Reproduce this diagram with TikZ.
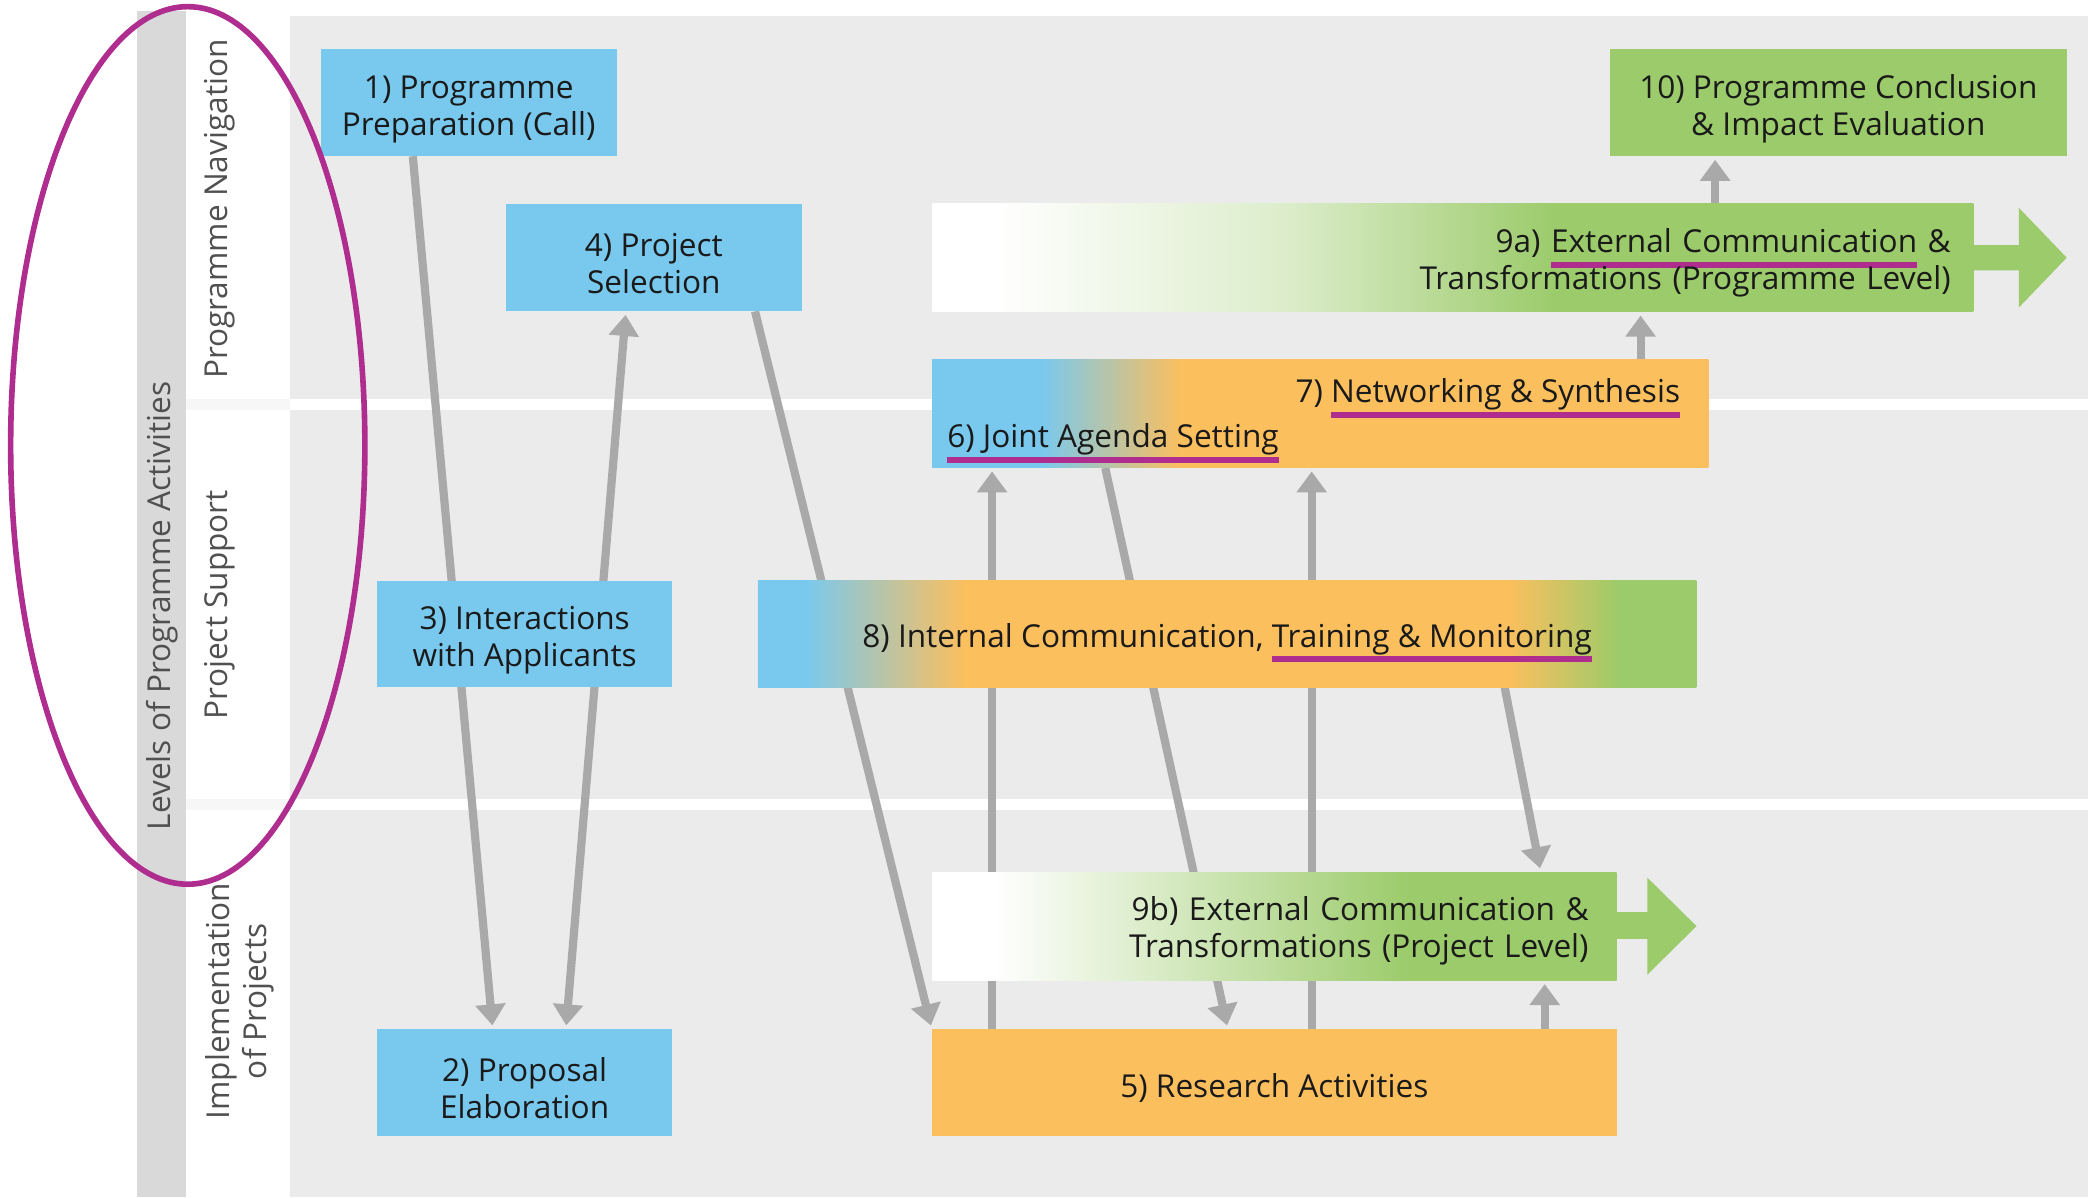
\documentclass[tikz,border=0pt]{standalone}
\usepackage{fontspec}
\setmainfont{Open Sans}
\usetikzlibrary{arrows.meta}

\definecolor{progblue}{HTML}{79C9EE}
\definecolor{progorange}{HTML}{FBBF5E}
\definecolor{proggreen}{HTML}{9BCB6A}
\definecolor{panel}{HTML}{EBEBEB}
\definecolor{barclr}{HTML}{D9D9D9}
\definecolor{flowgray}{HTML}{A9A9A9}
\definecolor{markclr}{HTML}{AE2D8F}
\definecolor{ink}{HTML}{1A1A1A}
\definecolor{sidegray}{HTML}{505050}

\pgfdeclarehorizontalshading{agenda}{100bp}{color(0bp)=(progblue); color(32bp)=(progblue); color(41bp)=(progorange); color(100bp)=(progorange)}
\pgfdeclarehorizontalshading{internal}{100bp}{color(0bp)=(progblue); color(27.5bp)=(progblue); color(36bp)=(progorange); color(65bp)=(progorange); color(71bp)=(proggreen); color(100bp)=(proggreen)}
\pgfdeclarehorizontalshading{extprog}{100bp}{color(0bp)=(white); color(28bp)=(white); color(42bp)=(proggreen!35); color(55bp)=(proggreen); color(100bp)=(proggreen)}
\pgfdeclarehorizontalshading{extproj}{100bp}{color(0bp)=(white); color(29.5bp)=(white); color(42bp)=(proggreen!40); color(60bp)=(proggreen); color(100bp)=(proggreen)}

\pgfdeclarelayer{back}
\pgfdeclarelayer{flows}
\pgfsetlayers{back,flows,main}

\newcommand{\boxfont}{\fontsize{13.5}{15.8}\selectfont}
\newcommand{\hilite}[1]{\sbox0{#1}\rlap{\smash{\color{markclr}\rule[-6.6pt]{\wd0}{2.6pt}}}\usebox0}

\begin{document}
\begin{tikzpicture}[x=0.02cm, y=-0.02cm, >={Triangle[width=12.5pt,length=9pt]},
  box/.style={minimum width=4.44cm, minimum height=1.6cm, inner sep=0pt, align=center, font=\boxfont, text=ink,
    execute at begin node={\rule{0pt}{14.5pt}}},
  twolines/.style={execute at begin node={\rule{0pt}{31pt}}},
  lbl/.style={inner sep=0pt, font=\boxfont, text=ink},
  flow/.style={draw=flowgray, line width=3.5pt, ->, shorten >=1.5pt},
  side/.style={rotate=90, align=center, font=\boxfont, text=sidegray}]

  \useasboundingbox (0,0) rectangle (1568,899);

  \begin{pgfonlayer}{back}
    \fill[panel] (218,12) rectangle (1568,899);
    \fill[barclr] (103,8) rectangle (140,899);
    \fill[white] (218,300) rectangle (1568,308);
    \fill[white] (218,600) rectangle (1568,608);
    \fill[panel!40] (140,300) rectangle (218,308);
    \fill[panel!40] (140,600) rectangle (218,608);
  \end{pgfonlayer}

  \node[side] (levels) at (122,455) {Levels of Programme Activities};
  \node[side] (nav) at (165,157) {Programme Navigation};
  \node[side] (support) at (165,454) {Project Support};
  \node[side] (impl) at (180,752) {Implementation\\of Projects};

  \node[box, twolines, fill=progblue] (prep) at (352,77) {1) Programme\\Preparation (Call)};
  \node[box, twolines, fill=progblue] (select) at (491,193.5) {4) Project\\Selection};
  \node[box, twolines, fill=progblue] (interact) at (394,476) {3) Interactions\\with Applicants};
  \node[box, twolines, fill=progblue] (proposal) at (394,813) {2) Proposal\\Elaboration};
  \node[box, twolines, fill=proggreen, minimum width=6.86cm] (conclusion) at (1380.5,77) {10) Programme Conclusion\\\& Impact Evaluation};

  \node[box, shade, shading=extprog, minimum width=15.64cm, minimum height=1.62cm, text width=14.96cm, align=right] (extprog) at (1091,193.5) {9a) \hilite{External Communication} \&\\Transformations (Programme Level)};
  \fill[proggreen] (1481,184) -- (1516,184) -- (1516,156) -- (1552,193.5) -- (1516,231) -- (1516,203) -- (1481,203) -- cycle;

  \node[box, shade, shading=agenda, minimum width=11.66cm, minimum height=1.62cm] (agenda) at (991.5,310.5) {};
  \node[lbl, anchor=east] (synth) at (1262,296) {7) \hilite{Networking \& Synthesis}};
  \node[lbl, anchor=west] (joint) at (711,330) {\hilite{6) Joint Agenda Setting}};

  \node[box, shade, shading=internal, minimum width=14.1cm] (internal) at (921.5,476) {8) Internal Communication, \hilite{Training \& Monitoring}};

  \node[box, shade, shading=extproj, minimum width=10.28cm, minimum height=1.62cm, text width=9.44cm, align=right] (extproj) at (957,695.5) {9b) External Communication \&\\Transformations (Project Level)};
  \fill[proggreen] (1213,685) -- (1237,685) -- (1237,659) -- (1274,695.5) -- (1237,732) -- (1237,705) -- (1213,705) -- cycle;

  \node[box, fill=progorange, minimum width=10.28cm] (research) at (957,813) {5) Research Activities};

  \begin{pgfonlayer}{flows}
    \draw[flow] (prep.south -| 310,0) -- (proposal.north -| 370,0);
    \draw[flow, <->, shorten <=1.5pt] (proposal.north -| 425,0) -- (select.south -| 470,0);
    \draw[flow] (select.south -| 567,0) -- (research.north west);
    \draw[flow] (research.north -| 745,0) -- (agenda.south -| 745,0);
    \draw[flow] (agenda.south -| 830,0) -- (research.north -| 922,0);
    \draw[flow] (research.north -| 985,0) -- (agenda.south -| 985,0);
    \draw[flow] (internal.south -| 1130,0) -- (extproj.north -| 1157,0);
    \draw[flow] (research.north -| 1160,0) -- (extproj.south -| 1160,0);
    \draw[flow] (agenda.north -| 1232,0) -- (extprog.south -| 1232,0);
    \draw[flow] (extprog.north -| 1288,0) -- (conclusion.south -| 1288,0);
  \end{pgfonlayer}

  \draw[markclr, line width=2.4pt] (141,334.5) ellipse [x radius=133, y radius=329.5];
\end{tikzpicture}
\end{document}
